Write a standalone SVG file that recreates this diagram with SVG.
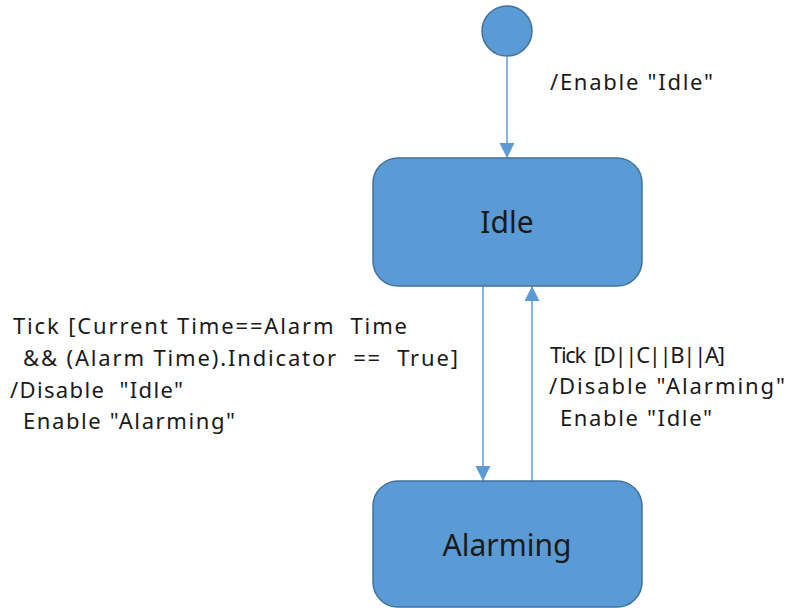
<svg xmlns="http://www.w3.org/2000/svg" width="786" height="608" viewBox="0 0 786 608">
<defs>
<style>
.node{fill:#5b9bd5;stroke:#41719c;stroke-width:1.5}
.nt{font-family:"Noto Sans","Open Sans",sans-serif;font-size:30px;fill:#1a1a1a;text-anchor:middle}
.lbl{font-family:"Noto Sans","Open Sans",sans-serif;font-size:22px;fill:#1a1a1a;white-space:pre}
.edge{stroke:#5b9bd5;stroke-width:1.5;fill:none}
</style>
<marker id="arr" markerWidth="16" markerHeight="16" refX="15" refY="7.5" orient="auto" markerUnits="userSpaceOnUse">
<path d="M0,0 L15,7.5 L0,15 Z" fill="#5b9bd5"/>
</marker>
</defs>
<rect width="786" height="608" fill="#ffffff"/>
<g id="edges">
<line class="edge" x1="507" y1="57" x2="507" y2="158" marker-end="url(#arr)"/>
<line class="edge" x1="483" y1="286" x2="483" y2="481" marker-end="url(#arr)"/>
<line class="edge" x1="532" y1="481" x2="532" y2="286" marker-end="url(#arr)"/>
</g>
<g id="start">
<circle class="node" cx="507" cy="31" r="25"/>
</g>
<g id="idle">
<rect class="node" x="373" y="158" width="269" height="128" rx="25" ry="25"/>
<text class="nt" x="507" y="233">Idle</text>
</g>
<g id="alarming">
<rect class="node" x="373" y="481" width="269" height="126" rx="25" ry="25"/>
<text class="nt" x="507" y="556">Alarming</text>
</g>
<g id="labels">
<text class="lbl" x="550" y="90" textLength="163">/Enable "Idle"</text>
<text class="lbl" x="13" y="334" textLength="394">Tick [Current Time==Alarm  Time</text>
<text class="lbl" x="23" y="366" textLength="435">&amp;&amp; (Alarm Time).Indicator  ==  True]</text>
<text class="lbl" x="10" y="398" textLength="173">/Disable  "Idle"</text>
<text class="lbl" x="23" y="429" textLength="212">Enable "Alarming"</text>
<text class="lbl" x="550" y="363" textLength="175">Tick  [D||C||B||A]</text>
<text class="lbl" x="549" y="394" textLength="236">/Disable "Alarming"</text>
<text class="lbl" x="560" y="426" textLength="152">Enable "Idle"</text>
</g>
</svg>
